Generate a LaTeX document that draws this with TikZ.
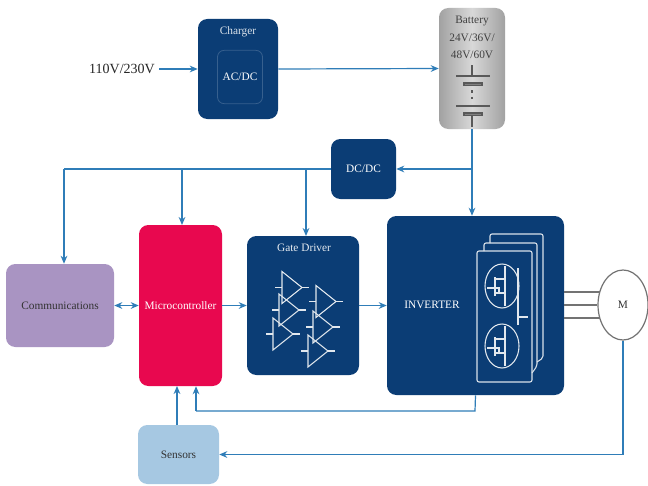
\documentclass[tikz,border=0pt]{standalone}
\usepackage{fontspec}
\setmainfont{Liberation Serif}
\usetikzlibrary{arrows.meta,shapes.geometric}
\definecolor{navy}{HTML}{0B3D75}
\definecolor{flow}{HTML}{2F7DB8}
\definecolor{batt}{HTML}{BEBEBE}
\definecolor{pinkred}{HTML}{E8084F}
\definecolor{lav}{HTML}{A994C2}
\definecolor{sens}{HTML}{A6C8E2}
\tikzset{
  x=0.75pt,y=-0.75pt,
  every node/.style={font=\fontsize{8.5pt}{10pt}\selectfont,inner sep=0pt},
  blockbox/.style={rectangle,rounded corners=7pt,align=center},
  darkbox/.style={blockbox,fill=navy,text=white},
  flowline/.style={draw=flow,line width=0.9pt,-{Stealth[length=6pt,width=5pt]}},
  flowplain/.style={draw=flow,line width=0.9pt},
  flowboth/.style={draw=flow,line width=0.9pt,{Stealth[length=6pt,width=5pt]}-{Stealth[length=6pt,width=5pt]}},
  glyph/.style={draw=white!88!navy,line width=0.8pt},
  cardline/.style={draw=white!85!navy,line width=0.8pt,rounded corners=1.5pt},
  batsym/.style={draw=black!65,line width=0.8pt},
  phase/.style={draw=black!55,line width=1.1pt},
}
\begin{document}
\begin{tikzpicture}
\useasboundingbox[fill=white] (0,0) rectangle (648,485);
% blocks
\node[darkbox,minimum width=60pt,minimum height=75pt] (charger) at (238,69) {};
\node[blockbox,draw=white!18!navy,line width=0.6pt,fill=navy,text=white,rounded corners=5pt,minimum width=33.75pt,minimum height=40pt] (acdc) at (240,77) {AC/DC};
\node[text=white!85!navy] (chargerlabel) at (238,32) {Charger};
\node[blockbox,left color=batt!85!black,right color=batt!85!black,middle color=batt!60!white,minimum width=49.5pt,minimum height=90.75pt] (battery) at (472,68.5) {};
\node[text=black!75] (bl1) at (472,21) {Battery};
\node[text=black!75] (bl2) at (472,38) {24V/36V/};
\node[text=black!75] (bl3) at (472,55) {48V/60V};
\node[darkbox,minimum width=48.75pt,minimum height=45pt] (dcdc) at (363.5,169) {DC/DC};
\node[darkbox,minimum width=84pt,minimum height=104.25pt] (gate) at (303,305.5) {};
\node[text=white!90!navy] (gatelabel) at (304,248) {Gate Driver};
\node[darkbox,minimum width=132.75pt,minimum height=134.25pt] (inverter) at (475.5,305.5) {};
\node[text=white] (invlabel) at (432,305) {INVERTER};
\node[blockbox,fill=pinkred,text=white,minimum width=62.25pt,minimum height=120.75pt] (micro) at (180.5,305.5) {Microcontroller};
\node[blockbox,fill=lav,text=black!80,minimum width=81pt,minimum height=62.25pt] (comm) at (60,305.5) {Communications};
\node[blockbox,fill=sens,text=black!80,minimum width=60.75pt,minimum height=44.25pt] (sensors) at (178.5,454.5) {Sensors};
\node[ellipse,draw=black!55,fill=white,line width=0.9pt,minimum width=37.5pt,minimum height=52.5pt,text=black!80] (motor) at (623,305) {M};
\node[text=black!85,font=\fontsize{10.5pt}{12pt}\selectfont] (mains) at (122,69) {110V/230V};
% battery symbol
\draw[batsym] (472,65) -- (472,76);
\draw[batsym] (456,76) -- (490,76);
\draw[batsym,fill=black!50] (464,83) rectangle (482,85.5);
\draw[batsym,dash pattern=on 2pt off 3pt] (472,90) -- (472,103);
\draw[batsym] (456,106) -- (490,106);
\draw[batsym,fill=black!50] (464,113) rectangle (482,115.5);
\draw[batsym] (472,115.5) -- (472,127);
% gate driver triangles
\foreach \bx/\cy in {282/287.5,279/310,273/334,316/301.5,313/327,308/351}{
  \draw[glyph] (\bx,\cy-16) -- (\bx+20,\cy) -- (\bx,\cy+16) -- cycle;
  \draw[glyph] (\bx-7,\cy) -- (\bx,\cy);
  \draw[glyph] (\bx+20,\cy) -- (\bx+27,\cy);
}
% inverter cards
\draw[cardline] (490,243) -- (490,234) -- (543,234) -- (543,358) -- (537,362);
\draw[cardline] (484,251) -- (484,243) -- (537,243) -- (537,366) -- (532,373);
\draw[cardline] (477,251) rectangle (532,382);
\foreach \cy in {286,346}{
  \draw[glyph] (502,\cy) ellipse [x radius=17,y radius=22];
  \draw[glyph] (487,\cy+2) -- (495,\cy+2);
  \draw[glyph] (495,\cy-9) -- (495,\cy+10);
  \draw[glyph] (495,\cy-7) -- (505,\cy-7);
  \draw[glyph] (505,\cy-20) -- (505,\cy+20);
  \draw[glyph] (495,\cy+7) -- (505,\cy+7);
  \draw[glyph] (495,\cy+2) -- (499,\cy+2) -- (499,\cy+7);
}
\draw[glyph] (518,268) -- (518,325);
\draw[glyph] (518,317) -- (528,317);
% connectors
\draw[flowline] (mains.east) ++(4,0) -- (charger.west);
\draw[flowline] (charger.east) -- (battery.west);
\draw[flowline] (battery.south) -- (battery.south |- inverter.north);
\draw[flowline] (battery.south |- dcdc.east) -- (dcdc.east);
\coordinate (commtop) at (64,169);
\draw[flowplain] (dcdc.west) -- (commtop);
\draw[flowline] (commtop) -- (commtop |- comm.north);
\draw[flowline] (182,169) -- (182,225);
\draw[flowline] (306,169) -- (306,236);
\draw[flowboth] (comm.east) -- (micro.west);
\draw[flowline] (micro.east) -- (gate.west);
\draw[flowline] (gate.east) -- (inverter.west);
\coordinate (fbright) at (475,411);
\coordinate (fbleft) at (196,411);
\draw[flowplain] (inverter.south) -- (fbright) -- (fbleft);
\draw[flowline] (fbleft) -- (fbleft |- micro.south);
\draw[flowline] (sensors.north -| 177,0) -- (177,386);
\coordinate (mcorner) at (motor.south |- sensors.east);
\draw[flowplain] (motor.south) -- (mcorner);
\draw[flowline] (mcorner) -- (sensors.east);
% phases
\draw[phase] (564,292) -- (600,292);
\draw[phase] (564,305) -- (motor.west);
\draw[phase] (564,318) -- (600,318);
\end{tikzpicture}
\end{document}
